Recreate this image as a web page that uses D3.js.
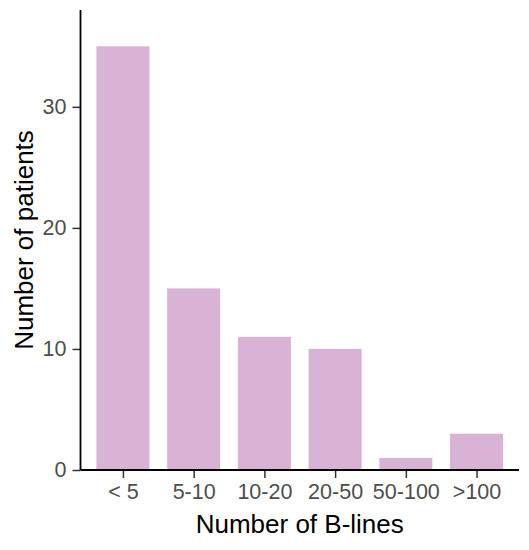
<!DOCTYPE html>
<html>
<head>
<meta charset="utf-8">
<script src="https://cdn.jsdelivr.net/npm/d3@7"></script>
<style>
  html, body { margin: 0; padding: 0; background: #fff; }
  svg { display: block; font-family: "Liberation Sans", Arial, sans-serif; }
</style>
</head>
<body>
<svg id="chart" width="529" height="550"></svg>
<script>
const categories = ["< 5", "5-10", "10-20", "20-50", "50-100", ">100"];
const patients = [35, 15, 11, 10, 1, 3];
const yTicks = [0, 10, 20, 30];
const xTitle = "Number of B-lines";
const yTitle = "Number of patients";

(function () {
const svg = d3.select("#chart");
const pLeft = 80.5, pRight = 519, pTop = 10, pBottom = 470;

// ggplot discrete expansion: 0.6 units each side, bar width 0.75 of step
const step = (pRight - pLeft) / (categories.length + 0.2);
const x = d3.scalePoint().domain(categories)
  .range([pLeft + 0.6 * step, pRight - 0.6 * step]);
const barW = 0.75 * step;

const y = d3.scaleLinear().domain([0, 38]).range([pBottom, pTop]);

svg.append("g").selectAll("rect").data(categories).join("rect")
  .attr("x", d => x(d) - barW / 2)
  .attr("width", barW)
  .attr("y", (d, i) => y(patients[i]))
  .attr("height", (d, i) => y(0) - y(patients[i]))
  .attr("fill", "#d8b3d6");

const yAxis = svg.append("g").attr("transform", `translate(${pLeft},0)`)
  .call(d3.axisLeft(y).tickValues(yTicks).tickSize(8).tickPadding(6).tickFormat(d3.format("d")));
yAxis.select(".domain").remove();
yAxis.selectAll(".tick line").attr("stroke", "#333").attr("stroke-width", 1.5);
yAxis.selectAll(".tick text").attr("fill", "#4d4d4d").attr("font-size", "21.5px")
  .attr("font-family", "'Liberation Sans', Arial, sans-serif");

const xAxis = svg.append("g").attr("transform", `translate(0,${pBottom})`)
  .call(d3.axisBottom(x).tickSize(8).tickPadding(6));
xAxis.select(".domain").remove();
xAxis.selectAll(".tick line").attr("stroke", "#333").attr("stroke-width", 1.5);
xAxis.selectAll(".tick text").attr("fill", "#4d4d4d").attr("font-size", "21.5px")
  .attr("font-family", "'Liberation Sans', Arial, sans-serif");

svg.append("line").attr("x1", pLeft).attr("x2", pLeft).attr("y1", pTop).attr("y2", pBottom)
  .attr("stroke", "#000").attr("stroke-width", 1.8);
svg.append("line").attr("x1", pLeft).attr("x2", pRight).attr("y1", pBottom).attr("y2", pBottom)
  .attr("stroke", "#000").attr("stroke-width", 1.8);

svg.append("text").attr("x", (pLeft + pRight) / 2).attr("y", 533)
  .attr("text-anchor", "middle").attr("font-size", "26px").attr("fill", "#000").text(xTitle);
svg.append("text").attr("transform", `translate(33,${(pTop + pBottom) / 2}) rotate(-90)`)
  .attr("text-anchor", "middle").attr("font-size", "26px").attr("fill", "#000").text(yTitle);
})();
</script>
</body>
</html>
